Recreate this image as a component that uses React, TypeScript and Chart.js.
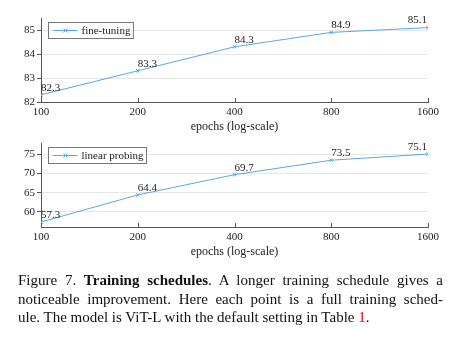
import React, { useEffect, useRef } from "react";
import { Chart, registerables } from "chart.js";

Chart.register(...registerables);

const epochs = [100, 200, 400, 800, 1600];
const fineTuning = [82.3, 83.3, 84.3, 84.9, 85.1];
const linearProbing = [57.3, 64.4, 69.7, 73.5, 75.1];
const ftTicks = [82, 83, 84, 85];
const lpTicks = [60, 65, 70, 75];

const SERIF = "'Liberation Serif', 'Times New Roman', serif";
const LINE = "#5aa8e0";
const AXIS = "#555555";

const overlayPlugin = {
  id: "overlay",
  afterDatasetsDraw(chart: any) {
    const ctx = chart.ctx;
    const meta = chart.getDatasetMeta(0);
    const ds = chart.data.datasets[0];
    const xs = chart.scales.x;
    const area = chart.chartArea;
    ctx.save();
    // inward x ticks
    ctx.strokeStyle = AXIS;
    ctx.lineWidth = 1;
    for (const v of epochs) {
      const px = Math.round(xs.getPixelForValue(v)) + 0.5;
      ctx.beginPath();
      ctx.moveTo(px, area.bottom);
      ctx.lineTo(px, area.bottom - 4);
      ctx.stroke();
    }
    // data labels
    ctx.fillStyle = "#222";
    ctx.font = `11px ${SERIF}`;
    ctx.textBaseline = "middle";
    meta.data.forEach((pt: any, i: number) => {
      const last = i === meta.data.length - 1;
      ctx.textAlign = last ? "right" : "left";
      ctx.fillText(String(ds.data[i]), pt.x + (last ? -1 : 0), pt.y - 7);
    });
    // legend
    const bx = area.left + 7.5;
    const by = area.top + 4.5;
    ctx.font = `11px ${SERIF}`;
    const tw = ctx.measureText(ds.label).width;
    const bw = 33 + tw + 3;
    const bh = 16;
    ctx.fillStyle = "#fff";
    ctx.fillRect(bx, by, bw, bh);
    ctx.strokeStyle = "#777";
    ctx.strokeRect(bx, by, bw, bh);
    const cy = by + bh / 2;
    ctx.strokeStyle = LINE;
    ctx.beginPath();
    ctx.moveTo(bx + 4, cy);
    ctx.lineTo(bx + 29, cy);
    ctx.stroke();
    ctx.beginPath();
    ctx.moveTo(bx + 15, cy - 2);
    ctx.lineTo(bx + 19, cy + 2);
    ctx.moveTo(bx + 19, cy - 2);
    ctx.lineTo(bx + 15, cy + 2);
    ctx.stroke();
    ctx.fillStyle = "#222";
    ctx.textAlign = "left";
    ctx.fillText(ds.label, bx + 33, cy + 0.5);
    ctx.restore();
  },
};

function makeConfig(label: string, values: number[], ticks: number[], min: number, max: number): any {
  return {
    type: "line",
    data: {
      labels: epochs,
      datasets: [
        {
          label,
          data: values.map((v) => v),
          borderColor: LINE,
          backgroundColor: LINE,
          borderWidth: 1,
          pointStyle: "crossRot",
          pointRadius: 2.5,
          pointBorderWidth: 1,
          tension: 0,
        },
      ],
    },
    options: {
      animation: false,
      responsive: false,
      layout: { padding: { left: 0, right: 32, top: 18, bottom: 0 } },
      plugins: { legend: { display: false }, tooltip: { enabled: false } },
      scales: {
        x: {
          type: "logarithmic",
          min: 100,
          max: 1600,
          afterBuildTicks(scale: any) {
            scale.ticks = epochs.map((v) => ({ value: v }));
          },
          afterFit(scale: any) {
            scale.height = 33;
          },
          ticks: {
            autoSkip: false,
            maxRotation: 0,
            padding: 4,
            color: "#222",
            font: { family: SERIF, size: 11 },
            callback: (v: any) => String(v),
          },
          grid: { display: false, drawTicks: false, tickLength: 0 },
          border: { display: true, color: AXIS, width: 1 },
          title: {
            display: true,
            text: "epochs (log-scale)",
            color: "#222",
            font: { family: SERIF, size: 12 },
            padding: { top: 0, bottom: 1 },
          },
        },
        y: {
          type: "linear",
          min,
          max,
          afterBuildTicks(scale: any) {
            scale.ticks = ticks.map((v) => ({ value: v }));
          },
          afterFit(scale: any) {
            scale.width = 41;
          },
          ticks: {
            padding: 2,
            color: "#222",
            font: { family: SERIF, size: 11 },
          },
          grid: { color: "#e6e6e6", tickColor: AXIS, tickLength: 4, lineWidth: 1 },
          border: { display: true, color: AXIS, width: 1 },
        },
      },
    },
    plugins: [overlayPlugin],
  };
}

function LineChart(props: { label: string; values: number[]; ticks: number[]; min: number; max: number; top: number }) {
  const ref = useRef<HTMLCanvasElement>(null);
  useEffect(() => {
    if (!ref.current) return;
    const chart = new Chart(ref.current, makeConfig(props.label, props.values, props.ticks, props.min, props.max));
    return () => chart.destroy();
  }, []);
  return (
    <canvas
      ref={ref}
      width={460}
      height={135}
      style={{ position: "absolute", left: 0, top: props.top, width: 460, height: 135 }}
    />
  );
}

export default function App() {
  return (
    <div style={{ position: "fixed", left: 0, top: 0, width: 460, height: 351, background: "#fff", overflow: "hidden" }}>
      <LineChart label="fine-tuning" values={fineTuning} ticks={ftTicks} min={82} max={85.5} top={0} />
      <LineChart label="linear probing" values={linearProbing} ticks={lpTicks} min={56} max={78} top={125} />
      <div
        style={{
          position: "absolute",
          left: 18,
          top: 271,
          width: 425,
          fontFamily: SERIF,
          fontSize: 15,
          lineHeight: "18.5px",
          color: "#111",
        }}
      >
        <div style={{ textAlign: "justify", textAlignLast: "justify" as any }}>
          Figure 7. <b>Training schedules</b>. A longer training schedule gives a
        </div>
        <div style={{ textAlign: "justify", textAlignLast: "justify" as any }}>
          noticeable improvement. Here each point is a full training sched-
        </div>
        <div>
          ule. The model is ViT-L with the default setting in Table <span style={{ color: "#e8000b" }}>1</span>.
        </div>
      </div>
    </div>
  );
}
